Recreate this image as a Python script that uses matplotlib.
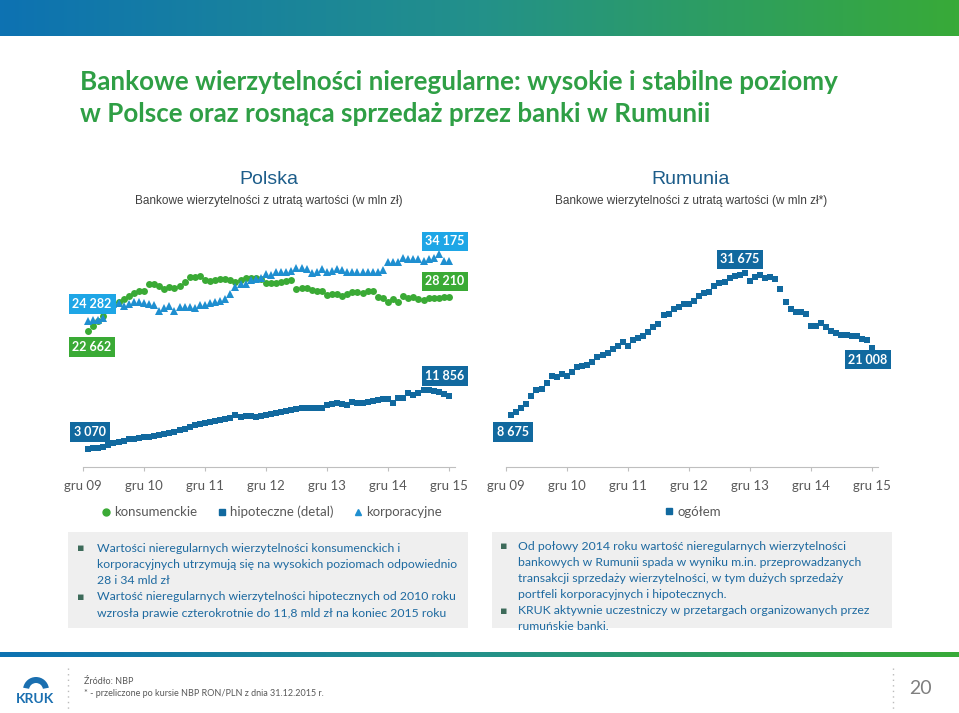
import numpy as np
import matplotlib
matplotlib.use("Agg")
import matplotlib.pyplot as plt
from matplotlib.colors import LinearSegmentedColormap
from matplotlib.lines import Line2D

# dane miesieczne sty 10 - gru 15 (mln zl)
months = list(range(1, 73))
tick_pos = [0, 12, 24, 36, 48, 60, 72]
tick_labels = ["gru 09", "gru 10", "gru 11", "gru 12", "gru 13", "gru 14", "gru 15"]

konsumenckie = [22662, 23463, 24294, 25174, 26116, 26946, 27388, 27940, 28493, 28880,
                29267, 29267, 30427, 30372, 30151, 29543, 29875, 29709, 30151, 30704,
                31644, 31644, 31754, 31091, 30980, 31091, 31202, 31257, 31091, 30814,
                31091, 31367, 31478, 31367, 31202, 30538, 30649, 30649, 30814, 30980,
                31091, 29598, 29709, 29709, 29433, 29322, 29267, 28602, 28714, 28714,
                28493, 28714, 29157, 29046, 28990, 29267, 29267, 28327, 28051, 27388,
                27885, 27499, 28493, 28051, 28327, 27885, 27775, 28051, 28161, 28161,
                28216, 28210]
korporacyjne = [24282, 24458, 24458, 24734, 26500, 27100, 27222, 26836, 27057, 27388,
                27388, 27222, 27057, 26946, 25950, 26503, 26836, 26006, 26559, 26559,
                26670, 26503, 26946, 26946, 27222, 27499, 27609, 27940, 28714, 29985,
                30372, 30372, 31091, 31257, 31367, 32029, 31918, 32470, 32470, 32470,
                32582, 33134, 33024, 32913, 32305, 32470, 32913, 32360, 32582, 32913,
                32748, 32470, 32360, 32470, 32360, 32470, 32360, 32470, 32748, 34132,
                34021, 34132, 34795, 34572, 34572, 34572, 34240, 34572, 34795, 35351,
                34240, 34175]
hipoteczne = [3070, 3181, 3291, 3457, 3733, 4010, 4231, 4452, 4673, 4728,
              4839, 5005, 5115, 5281, 5391, 5502, 5668, 5944, 6220, 6441,
              6773, 6994, 7160, 7436, 7602, 7712, 7878, 7989, 8265, 8707,
              8431, 8541, 8597, 8321, 8541, 8763, 8873, 9094, 9260, 9425,
              9591, 9757, 9868, 9923, 9923, 9923, 9868, 10420, 10531, 10752,
              10531, 10365, 10863, 10752, 10752, 10863, 11084, 11194, 11415, 11305,
              10752, 11471, 11471, 12410, 12023, 12299, 12852, 12852, 12741, 12520,
              12134, 11856]
rumunia = [8675, 9285, 10018, 10690, 12216, 13255, 13499, 14477, 15880, 15576,
           16186, 15820, 16613, 17408, 17652, 17835, 18445, 19361, 19667, 20094,
           20705, 21316, 21988, 21316, 22415, 22721, 23148, 23941, 24857, 25346,
           26995, 27178, 28034, 28521, 28950, 29071, 29621, 30476, 30965, 31269,
           32308, 32918, 32980, 33713, 34140, 34262, 34629, 33224, 33896, 34383,
           33713, 34017, 33651, 31698, 29437, 28034, 27484, 27484, 27178, 24980,
           25040, 25469, 24736, 24064, 23637, 23331, 23270, 23148, 23087, 22598,
           22354, 21008]

GREEN = "#3aaa35"
LBLUE = "#1f8fd0"
DBLUE = "#11699f"
TXT = "#595959"
W, H = 959, 713

plt.rcParams['font.family'] = ['Lato', 'DejaVu Sans']
fig = plt.figure(figsize=(W / 100, H / 100), dpi=100)

# tlo / dekoracje w pikselach
bg = fig.add_axes([0, 0, 1, 1])
grad = LinearSegmentedColormap.from_list("g", ["#0d72b2", "#23918a", "#38aa38"])
bg.imshow(np.linspace(0, 1, 256)[None, :], cmap=grad, aspect="auto", extent=(0, W, 36, 0))
bg.imshow(np.linspace(0, 1, 256)[None, :], cmap=grad, aspect="auto", extent=(0, W, 657, 652))
bg.set_xlim(0, W)
bg.set_ylim(H, 0)
bg.axis("off")

bg.text(80, 82, "Bankowe wierzytelności nieregularne: wysokie i stabilne poziomy",
        fontsize=18.7, fontweight="bold", color="#2f9f45", va="center")
bg.text(80, 114, "w Polsce oraz rosnąca sprzedaż przez banki w Rumunii",
        fontsize=18.7, fontweight="bold", color="#2f9f45", va="center")

bg.text(269, 180, "Polska", fontsize=14, color="#1d5d8a", ha="center", va="center",
        family="Liberation Sans")
bg.text(269, 201, "Bankowe wierzytelności z utratą wartości (w mln zł)", fontsize=8.5,
        color="#404040", ha="center", va="center", family="Liberation Sans")
bg.text(691, 180, "Rumunia", fontsize=14, color="#1d5d8a", ha="center", va="center",
        family="Liberation Sans")
bg.text(691, 201, "Bankowe wierzytelności z utratą wartości (w mln zł*)", fontsize=8.5,
        color="#404040", ha="center", va="center", family="Liberation Sans")

# szare ramki z komentarzem
bg.add_patch(plt.Rectangle((68, 532), 400, 96, fc="#efefef", ec="none"))
bg.add_patch(plt.Rectangle((492, 532), 400, 96, fc="#efefef", ec="none"))
TBLUE = "#1e6aa0"
left_lines = [(True, "Wartości nieregularnych wierzytelności konsumenckich i"),
              (False, "korporacyjnych utrzymują się na wysokich poziomach odpowiednio"),
              (False, "28 i 34 mld zł"),
              (True, "Wartość nieregularnych wierzytelności hipotecznych od 2010 roku"),
              (False, "wzrosła prawie czterokrotnie do 11,8 mld zł na koniec 2015 roku")]
for i, (b, s) in enumerate(left_lines):
    y = 548 + i * 16.3
    if b:
        bg.text(81, y, "▪", color="#3d6b5a", fontsize=8, va="center", ha="center",
                family="DejaVu Sans")
    bg.text(97, y, s, color=TBLUE, fontsize=8.8, va="center")
right_lines = [(True, "Od połowy 2014 roku wartość nieregularnych wierzytelności"),
               (False, "bankowych w Rumunii spada w wyniku m.in. przeprowadzanych"),
               (False, "transakcji sprzedaży wierzytelności, w tym dużych sprzedaży"),
               (False, "portfeli korporacyjnych i hipotecznych."),
               (True, "KRUK aktywnie uczestniczy w przetargach organizowanych przez"),
               (False, "rumuńskie banki.")]
for i, (b, s) in enumerate(right_lines):
    y = 546 + i * 16.2
    if b:
        bg.text(504, y, "▪", color="#3d6b5a", fontsize=8, va="center", ha="center",
                family="DejaVu Sans")
    bg.text(518, y, s, color=TBLUE, fontsize=8.8, va="center")

# stopka
bg.plot([68, 68], [668, 710], color="#bbbbbb", lw=1, ls=(0, (1, 3)))
bg.plot([893, 893], [668, 710], color="#bbbbbb", lw=1, ls=(0, (1, 3)))
bg.text(84, 682, "Źródło: NBP", fontsize=6.5, color=TXT, va="center")
bg.text(84, 694, "* - przeliczone po kursie NBP RON/PLN z dnia 31.12.2015 r.", fontsize=6.5,
        color=TXT, va="center")
bg.text(920, 688, "20", fontsize=14, color="#7f7f7f", ha="center", va="center")
bg.add_patch(matplotlib.patches.Wedge((36, 690), 13, 190, 350, width=6, fc="#1a6fb0"))
bg.text(35, 699, "KRUK", fontsize=10, fontweight="bold", color="#1a6fb0",
        ha="center", va="center")


def make_axes(left_px, ylim):
    width_px = 73.2 * 5.083
    ax = fig.add_axes([left_px / W, 1 - 467 / H, width_px / W, 227 / H])
    ax.set_xlim(0, 73.2)
    ax.set_ylim(*ylim)
    ax.patch.set_alpha(0)
    for sp in ["top", "left", "right"]:
        ax.spines[sp].set_visible(False)
    ax.spines["bottom"].set_color("#bfbfbf")
    ax.set_yticks([])
    ax.set_xticks(tick_pos)
    ax.set_xticklabels(tick_labels)
    ax.tick_params(axis="x", colors="#bfbfbf", labelcolor=TXT, labelsize=9.5,
                   length=3, pad=6)
    return ax


def box_label(ax, text, x, y, dx, dy, color):
    ax.annotate(text, xy=(x, y), xytext=(dx, dy), textcoords="offset pixels",
                ha="center", va="center", color="white", fontsize=9,
                fontweight="bold", annotation_clip=False,
                bbox=dict(boxstyle="square,pad=0.3", fc=color, ec="none"))


# Polska
ax1 = make_axes(83, (86, 37722))
ax1.plot(months, konsumenckie, "o", color=GREEN, ms=5, mew=0, clip_on=False)
ax1.plot(months, korporacyjne, "^", color=LBLUE, ms=5.5, mew=0, clip_on=False)
ax1.plot(months, hipoteczne, "s", color=DBLUE, ms=5, mew=0, clip_on=False)
box_label(ax1, "24 282", months[0], korporacyjne[0], 4, 17, "#1ea6e6")
box_label(ax1, "22 662", months[0], konsumenckie[0], 4, -16, GREEN)
box_label(ax1, "34 175", months[-1], korporacyjne[-1], -4, 20, "#1ea6e6")
box_label(ax1, "28 210", months[-1], konsumenckie[-1], -4, 16, GREEN)
box_label(ax1, "11 856", months[-1], hipoteczne[-1], -4, 20, DBLUE)
box_label(ax1, "3 070", months[0], hipoteczne[0], 2, 17, DBLUE)

handles = [Line2D([], [], ls="", marker="o", color=GREEN, ms=5),
           Line2D([], [], ls="", marker="s", color=DBLUE, ms=5),
           Line2D([], [], ls="", marker="^", color=LBLUE, ms=5)]
fig.legend(handles, ["konsumenckie", "hipoteczne (detal)", "korporacyjne"],
           loc="center", bbox_to_anchor=(272 / W, 1 - 512 / H), ncol=3, frameon=False,
           fontsize=9.5, labelcolor=TXT, handlelength=0.6, handletextpad=0.3,
           columnspacing=1.6)

# Rumunia
ax2 = make_axes(506, (-851, 40735))
ax2.plot(months, rumunia, "s", color=DBLUE, ms=4.8, mew=0, clip_on=False)
peak = int(np.argmax(rumunia))
box_label(ax2, "31 675", months[peak], rumunia[peak], -5, 14, DBLUE)
box_label(ax2, "8 675", months[0], rumunia[0], 2, -17, DBLUE)
box_label(ax2, "21 008", months[-1], rumunia[-1], -4, -12, DBLUE)
fig.legend([Line2D([], [], ls="", marker="s", color=DBLUE, ms=5)], ["ogółem"],
           loc="center", bbox_to_anchor=(693 / W, 1 - 512 / H), frameon=False,
           fontsize=9.5, labelcolor=TXT, handlelength=0.6, handletextpad=0.3)

fig.savefig("out.png", dpi=100)
